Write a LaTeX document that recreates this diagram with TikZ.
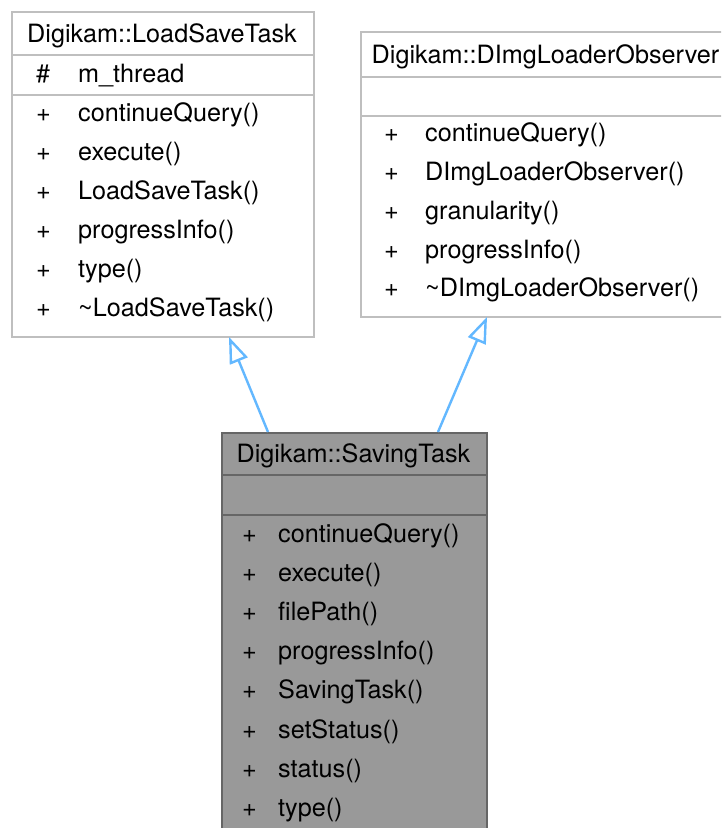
\documentclass[tikz,border=0pt]{standalone}
\usepackage{fontspec}
\setmainfont{TeX Gyre Heros}
\usetikzlibrary{arrows.meta}
\definecolor{boxgrey}{HTML}{BFBFBF}
\definecolor{darkbord}{HTML}{666666}
\definecolor{darkfill}{HTML}{999999}
\definecolor{inhblue}{HTML}{63B8FF}
\begin{document}
\begin{tikzpicture}[x=1pt,y=-1pt,
  font=\fontsize{25.2}{30}\selectfont,
  lightbox/.style={draw=boxgrey, fill=white, line width=2pt, inner sep=0, anchor=north west},
  darkbox/.style={draw=darkbord, fill=darkfill, line width=2pt, inner sep=0, anchor=north west},
  lightsep/.style={draw=boxgrey, line width=2pt},
  darksep/.style={draw=darkbord, line width=2pt},
  title/.style={anchor=base, inner sep=0},
  member/.style={anchor=base west, inner sep=0},
  inh/.style={draw=inhblue, line width=2.4pt, -{Triangle[open, length=26pt, width=19pt]}}
]
\useasboundingbox (0,0) rectangle (721,828);
\clip (0,0) rectangle (721,828);
\fill[white] (0,0) rectangle (721,828);

% LoadSaveTask
\node[lightbox, minimum width=302, minimum height=325] (lst) at (11,11) {};
\draw[lightsep] (11,55) -- (313,55);
\draw[lightsep] (11,95) -- (313,95);
\node[title] (lstt) at (162,42) {Digikam::LoadSaveTask};
\node[member] (lsta) at (36,82) {\#};
\node[member] (lstan) at (78,82) {m\_thread};
\foreach \t [count=\i from 0] in {continueQuery(), execute(), LoadSaveTask(), progressInfo(), type(), \textasciitilde LoadSaveTask()} {
  \node[member] (lstp\i) at (36,121.7+39*\i) {+};
  \node[member] (lstm\i) at (78,121.7+39*\i) {\t};
}

% DImgLoaderObserver
\node[lightbox, minimum width=370, minimum height=285] (dlo) at (360,31) {};
\draw[lightsep] (360,77) -- (730,77);
\draw[lightsep] (360,116) -- (730,116);
\node[title] (dlot) at (545.5,63) {Digikam::DImgLoaderObserver};
\foreach \t [count=\i from 0] in {continueQuery(), DImgLoaderObserver(), granularity(), progressInfo(), \textasciitilde DImgLoaderObserver()} {
  \node[member] (dlop\i) at (384,141.7+38.8*\i) {+};
  \node[member] (dlom\i) at (425,141.7+38.8*\i) {\t};
}

% SavingTask
\node[darkbox, minimum width=265, minimum height=410] (st) at (221,432) {};
\draw[darksep] (221,475) -- (486,475);
\draw[darksep] (221,515) -- (486,515);
\node[title] (stt) at (353.5,462) {Digikam::SavingTask};
\foreach \t [count=\i from 0] in {continueQuery(), execute(), filePath(), progressInfo(), SavingTask(), setStatus(), status(), type()} {
  \node[member] (stp\i) at (242,542.5+39.1*\i) {+};
  \node[member] (stm\i) at (278,542.5+39.1*\i) {\t};
}

% inheritance arrows
\coordinate (a1s) at (268,432);
\coordinate (a1e) at (229,337);
\coordinate (a2s) at (438,432);
\coordinate (a2e) at (487,317);
\draw[inh] (a1s) -- (a1e);
\draw[inh] (a2s) -- (a2e);
\end{tikzpicture}
\end{document}
